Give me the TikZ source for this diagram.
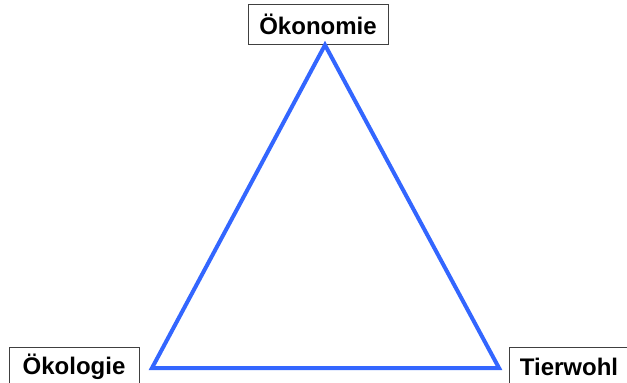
\documentclass[tikz,border=0pt]{standalone}
\usepackage{fontspec}
\setmainfont{Liberation Sans}
\definecolor{triblue}{RGB}{51,102,255}
\tikzset{
  pillar/.style={draw=black!75,line width=0.9pt,fill=white,inner sep=0pt,
    minimum height=40pt,font=\fontsize{24}{28}\selectfont\bfseries},
  edge/.style={draw=triblue,line width=4pt,line join=miter}
}
\begin{document}
\begin{tikzpicture}[x=1pt,y=-1pt]
\useasboundingbox (0,0) rectangle (627,383);
\node[pillar,minimum width=140pt] (oekonomie) at (318,24) {Ökonomie};
\node[pillar,minimum width=130pt] (oekologie) at (74,367) {Ökologie};
\node[pillar,minimum width=120pt] (tierwohl) at (569,367) {Tierwohl};
\coordinate (top) at (325,45);
\coordinate (left) at (152,368);
\coordinate (right) at (499,368);
\draw[edge] (top) -- (left) -- (right) -- cycle;
\end{tikzpicture}
\end{document}
